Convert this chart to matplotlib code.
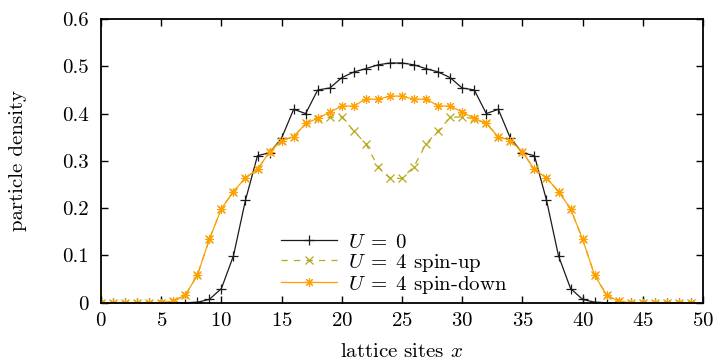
import matplotlib
matplotlib.use("Agg")
import matplotlib.pyplot as plt

plt.rcParams['font.family'] = 'serif'
plt.rcParams['font.serif'] = ['cmr10']
plt.rcParams['mathtext.fontset'] = 'cm'
plt.rcParams['axes.formatter.use_mathtext'] = True
plt.rcParams['font.size'] = 15

sites = list(range(50))

density_u0 = [0, 0, 0, 0, 0, 0, 0, 0, 0.001, 0.007,
              0.030, 0.099, 0.217, 0.311, 0.317, 0.348, 0.409, 0.400, 0.450, 0.454,
              0.476, 0.488, 0.495, 0.503, 0.507, 0.507, 0.503, 0.495, 0.488, 0.476,
              0.454, 0.450, 0.400, 0.409, 0.348, 0.317, 0.311, 0.217, 0.099, 0.030,
              0.007, 0.001, 0, 0, 0, 0, 0, 0, 0, 0]

density_up = [0, 0, 0, 0, 0, 0, 0.003, 0.016, 0.058, 0.134,
              0.199, 0.235, 0.264, 0.282, 0.319, 0.343, 0.351, 0.379, 0.389, 0.392,
              0.393, 0.363, 0.336, 0.288, 0.263, 0.263, 0.288, 0.336, 0.363, 0.392,
              0.393, 0.389, 0.379, 0.351, 0.343, 0.319, 0.282, 0.264, 0.235, 0.199,
              0.134, 0.058, 0.016, 0.003, 0, 0, 0, 0, 0, 0]

density_down = [0, 0, 0, 0, 0, 0, 0.003, 0.016, 0.058, 0.134,
                0.199, 0.235, 0.264, 0.282, 0.319, 0.343, 0.351, 0.379, 0.390, 0.403,
                0.416, 0.416, 0.431, 0.430, 0.437, 0.437, 0.430, 0.431, 0.416, 0.416,
                0.403, 0.390, 0.379, 0.351, 0.343, 0.319, 0.282, 0.264, 0.235, 0.199,
                0.134, 0.058, 0.016, 0.003, 0, 0, 0, 0, 0, 0]

labels = [r'$U\;=\;0$', r'$U\;=\;4$ spin-up', r'$U\;=\;4$ spin-down']
x_ticks = list(range(0, 51, 5))
y_ticks = [0, 0.1, 0.2, 0.3, 0.4, 0.5, 0.6]
y_ticklabels = ['0', '0.1', '0.2', '0.3', '0.4', '0.5', '0.6']

c_black = '#1a1a1a'
c_olive = '#b8a81c'
c_orange = '#ffa000'

fig = plt.figure(figsize=(7.16, 3.63), dpi=100)
ax = fig.add_axes([101/716, (363-302.7)/363, (703-101)/716, (302.7-19)/363])

ax.plot(sites, density_u0, color=c_black, lw=0.9, marker='+', ms=7, mew=0.9, label=labels[0])
ax.plot(sites, density_up, color=c_olive, lw=0.9, ls=(0, (5, 5)), marker='x', ms=5.5, mew=0.9, label=labels[1])
ax.plot(sites, density_down, color=c_orange, lw=0.9, marker=(8, 2, 0), ms=6.5, mew=0.8, label=labels[2])

ax.set_xlim(0, 50)
ax.set_ylim(0, 0.6)
ax.set_xticks(x_ticks)
ax.set_yticks(y_ticks)
ax.set_yticklabels(y_ticklabels)
ax.tick_params(direction='in', top=True, right=True, length=5, width=1.0)
ax.tick_params(axis='y', pad=9)
ax.tick_params(axis='x', pad=7)
for s in ax.spines.values():
    s.set_linewidth(1.3)

ax.set_xlabel('lattice sites $x$')
ax.set_ylabel('particle density')
ax.yaxis.set_label_coords((27-101)/602, 0.5)
ax.xaxis.set_label_coords(0.5, -(357-302.7)/283.7)
ax.xaxis.label.set_verticalalignment('baseline')

leg = ax.legend(loc='upper left', bbox_to_anchor=(281/716, (363-233)/363), bbox_transform=fig.transFigure,
                frameon=False, handlelength=2.7, handletextpad=0.5, labelspacing=0.0,
                borderpad=0, borderaxespad=0, fontsize=15)

fig.savefig('out.png', dpi=100)
